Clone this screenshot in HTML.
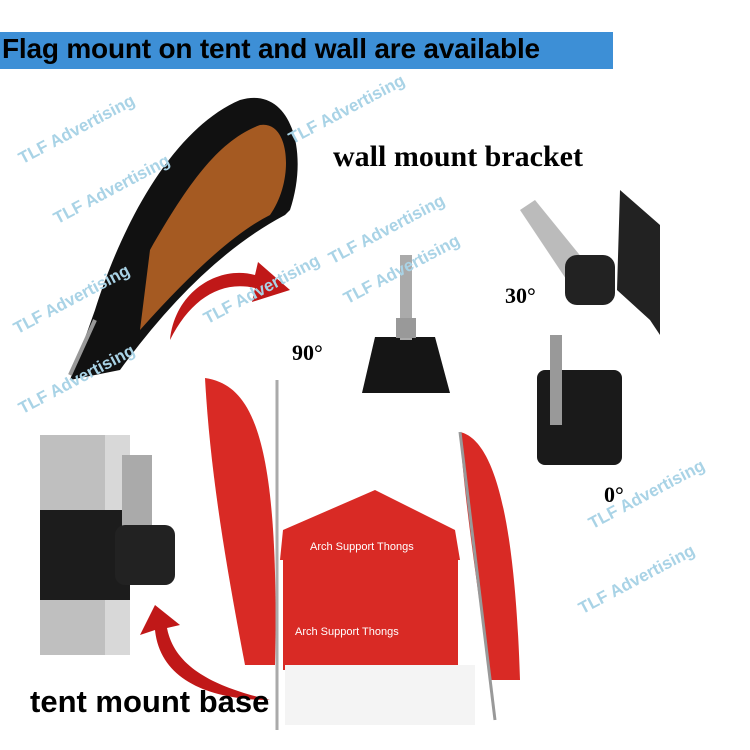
<!DOCTYPE html>
<html><head><meta charset="utf-8"><style>
body{margin:0;width:750px;height:750px;background:#fff;overflow:hidden;position:relative;font-family:"Liberation Sans",sans-serif}
.t{position:absolute;white-space:nowrap}
.w{position:absolute;white-space:nowrap;color:#a9d3e6;font-size:17px;font-weight:bold;transform:rotate(-28deg);transform-origin:left}
</style></head><body>
<div style="position:absolute;left:0;top:32px;width:613px;height:37px;background:#3d8fd6"></div>
<div class="t" style="left:2px;top:33px;font-size:28px;font-weight:bold;letter-spacing:-0.2px">Flag mount on tent and wall are available</div>
<svg width="750" height="750" style="position:absolute;left:0;top:0">
<path d="M70 380 L95 310 C120 230 170 130 240 100 C290 85 310 150 290 210 L285 215 Q200 260 120 370 Z" fill="#111"/>
<path d="M150 250 C190 180 220 140 260 125 C290 120 295 180 270 215 Q220 240 140 330 Z" fill="#a55a22"/>
<line x1="95" y1="320" x2="70" y2="375" stroke="#999" stroke-width="4"/>
<path d="M170 340 C175 290 220 265 255 275 L258 262 L290 290 L252 302 L255 288 C220 280 190 300 170 340 Z" fill="#c01818"/>
<path d="M375 337 L435 337 L450 393 L362 393 Z" fill="#151515"/>
<rect x="400" y="255" width="12" height="85" fill="#aaa"/>
<rect x="396" y="318" width="20" height="20" fill="#999"/>
<path d="M620 190 L660 225 L660 335 L650 320 L617 290 Z" fill="#222"/>
<path d="M520 210 L535 200 L600 280 L580 300 Z" fill="#bbb"/>
<rect x="565" y="255" width="50" height="50" rx="12" fill="#222"/>
<rect x="537" y="370" width="85" height="95" rx="8" fill="#1a1a1a"/>
<rect x="550" y="335" width="12" height="90" fill="#999"/>
<rect x="40" y="435" width="65" height="220" fill="#bfbfbf"/>
<rect x="105" y="435" width="25" height="220" fill="#d8d8d8"/>
<rect x="40" y="510" width="90" height="90" fill="#1c1c1c"/>
<rect x="122" y="455" width="30" height="80" fill="#aaa"/>
<rect x="115" y="525" width="60" height="60" rx="10" fill="#222"/>
<path d="M270 700 C210 700 160 680 155 630 L140 635 L155 605 L180 625 L167 628 C175 670 220 688 270 700 Z" fill="#c01818"/>
<path d="M205 378 C250 385 280 430 275 665 L245 665 C225 560 210 470 205 378 Z" fill="#d92a25"/>
<line x1="277" y1="380" x2="277" y2="730" stroke="#aaa" stroke-width="3"/>
<path d="M460 432 C495 440 515 520 520 680 L490 680 C480 600 465 510 460 432 Z" fill="#d92a25"/>
<line x1="460" y1="432" x2="495" y2="720" stroke="#999" stroke-width="3"/>
<path d="M283 530 L375 490 L455 530 L460 560 L280 560 Z" fill="#d92a25"/>
<rect x="283" y="560" width="175" height="110" fill="#d92a25"/>
<rect x="285" y="665" width="190" height="60" fill="#f4f4f4"/>
<text x="295" y="635" fill="#fff" font-family="Liberation Sans" font-size="11">Arch Support Thongs</text>
<text x="310" y="550" fill="#fff" font-family="Liberation Sans" font-size="11">Arch Support Thongs</text>
</svg>
<div class="w" style="left:20px;top:150px">TLF Advertising</div>
<div class="w" style="left:55px;top:210px">TLF Advertising</div>
<div class="w" style="left:290px;top:130px">TLF Advertising</div>
<div class="w" style="left:330px;top:250px">TLF Advertising</div>
<div class="w" style="left:15px;top:320px">TLF Advertising</div>
<div class="w" style="left:205px;top:310px">TLF Advertising</div>
<div class="w" style="left:345px;top:290px">TLF Advertising</div>
<div class="w" style="left:20px;top:400px">TLF Advertising</div>
<div class="w" style="left:590px;top:515px">TLF Advertising</div>
<div class="w" style="left:580px;top:600px">TLF Advertising</div>
<div class="t" style="left:333px;top:140px;font-family:'Liberation Serif',serif;font-weight:bold;font-size:30px">wall mount bracket</div>
<div class="t" style="left:505px;top:283px;font-family:'Liberation Serif',serif;font-weight:bold;font-size:22px">30°</div>
<div class="t" style="left:292px;top:340px;font-family:'Liberation Serif',serif;font-weight:bold;font-size:22px">90°</div>
<div class="t" style="left:604px;top:482px;font-family:'Liberation Serif',serif;font-weight:bold;font-size:22px">0°</div>
<div class="t" style="left:30px;top:684px;font-weight:bold;font-size:31px">tent mount base</div>
</body></html>
